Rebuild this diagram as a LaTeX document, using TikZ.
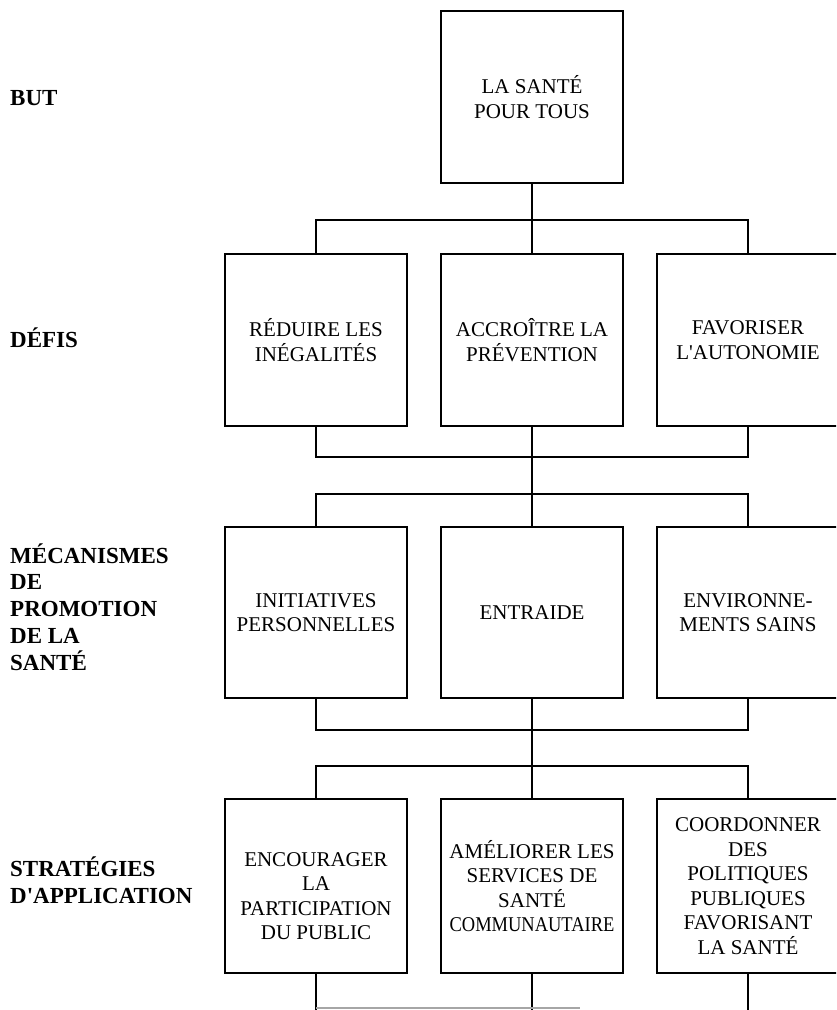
\documentclass[tikz,border=0pt]{standalone}
\usepackage{fontspec}
\setmainfont{Liberation Serif}[Ligatures=TeXOff]
\usepackage{graphicx}
\begin{document}
\begin{tikzpicture}[x=1pt,y=-1pt,
  boxtext/.style={align=center, font=\fontsize{21}{24.5}\selectfont},
  box/.style={draw, line width=2.6pt, minimum width=182pt, inner sep=0pt, boxtext},
  conn/.style={line width=2.5pt},
  lev/.style={anchor=base west, align=left, inner sep=0pt,
              font=\fontsize{23}{26.7}\selectfont\bfseries}]
\useasboundingbox (0,0) rectangle (836,1010);
\clip (0,0) rectangle (836,1010);

% level labels (base anchor sits on the last line)
\node[lev] (lbut) at (10,105) {BUT};
\node[lev] (ldefis) at (10,347) {DÉFIS};
\node[lev] (lmeca) at (10,670) {MÉCANISMES\\DE\\PROMOTION\\DE LA\\SANTÉ};
\node[lev] (lstrat) at (10,903) {STRATÉGIES\\D'APPLICATION};

% goal
\node[box, minimum height=172pt] (top) at (532,97) {LA SANTÉ\\POUR TOUS};

% challenges
\node[box, minimum height=172pt] (d1) at (316,340) {RÉDUIRE LES\\INÉGALITÉS};
\node[box, minimum height=172pt] (d2) at (532,340) {ACCROÎTRE LA\\PRÉVENTION};
\node[box, minimum height=172pt] (d3) at (748,340) {FAVORISER\\L'AUTONOMIE};

% mechanisms
\node[box, minimum height=171pt] (m1) at (316,612.5) {INITIATIVES\\PERSONNELLES};
\node[box, minimum height=171pt] (m2) at (532,612.5) {ENTRAIDE};
\node[box, minimum height=171pt] (m3) at (748,612.5) {ENVIRONNE-\\MENTS SAINS};

% strategies
\node[box, minimum height=174pt,
      label={[boxtext, yshift=-10pt]center:ENCOURAGER\\LA\\PARTICIPATION\\DU PUBLIC}]
      (s1) at (316,886) {};
\node[box, minimum height=174pt] (s2) at (532,886)
      {AMÉLIORER LES\\SERVICES DE\\SANTÉ\\\scalebox{0.88}[1]{COMMUNAUTAIRE}};
\node[box, minimum height=174pt] (s3) at (748,886)
      {COORDONNER\\DES\\POLITIQUES\\PUBLIQUES\\FAVORISANT\\LA SANTÉ};

% bus junctions
\coordinate (b1) at (532,220);
\coordinate (c1) at (532,457);
\coordinate (b2) at (532,494);
\coordinate (c2) at (532,730);
\coordinate (b3) at (532,766);
\coordinate (e1) at (316,1012);
\coordinate (e2) at (532,1012);
\coordinate (e3) at (748,1012);
\coordinate (f1) at (316,1008);
\coordinate (f2) at (580,1008);

% goal -> challenges
\draw[conn] (top.south) -- (b1);
\draw[conn] (d1.north) |- (b1) -| (d3.north);
\draw[conn] (b1) -- (d2.north);

% challenges -> mechanisms
\draw[conn] (d1.south) |- (c1) -| (d3.south);
\draw[conn] (d2.south) -- (c1) -- (b2);
\draw[conn] (m1.north) |- (b2) -| (m3.north);
\draw[conn] (b2) -- (m2.north);

% mechanisms -> strategies
\draw[conn] (m1.south) |- (c2) -| (m3.south);
\draw[conn] (m2.south) -- (c2) -- (b3);
\draw[conn] (s1.north) |- (b3) -| (s3.north);
\draw[conn] (b3) -- (s2.north);

% strategies, lower ends
\draw[conn] (s1.south) -- (e1);
\draw[conn] (s2.south) -- (e2);
\draw[conn] (s3.south) -- (e3);
\draw[line width=1.2pt, black!35] (f1) -- (f2);
\end{tikzpicture}
\end{document}
